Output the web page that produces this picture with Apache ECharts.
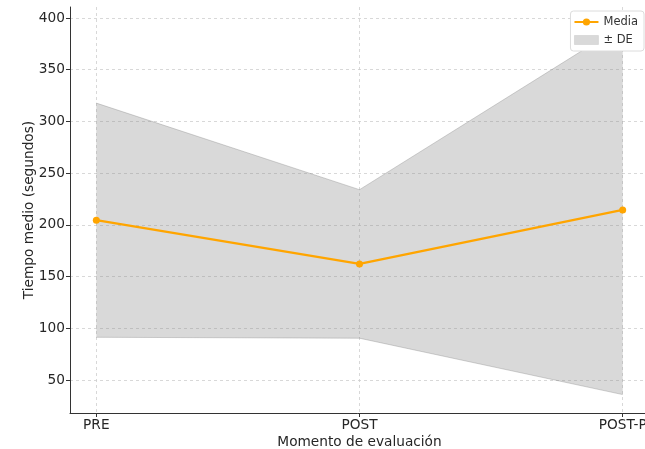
<!DOCTYPE html>
<html>
<head>
<meta charset="utf-8">
<script src="https://cdn.jsdelivr.net/npm/echarts@6/dist/echarts.min.js"></script>
<style>
html,body{margin:0;padding:0;background:#fff;}
#chart{width:645px;height:449px;}
</style>
</head>
<body>
<div id="chart"></div>
<script>
const categories = ['PRE', 'POST', 'POST-P'];
const meanValues = [204.5, 162.2, 214.4];
const sdValues = [113.2, 71.8, 178.5];
const yTicks = [50, 100, 150, 200, 250, 300, 350, 400];

const xIdx = categories.map((c, i) => i);
const lower = meanValues.map((m, i) => m - sdValues[i]);
const upper = meanValues.map((m, i) => m + sdValues[i]);

const font = 'DejaVu Sans';
const chart = echarts.init(document.getElementById('chart'), null, {renderer: 'canvas'});

function renderBand(params, api) {
  const i = params.dataIndex;
  if (i >= xIdx.length - 1) return null;
  const a0 = api.coord([xIdx[i], lower[i]]);
  const a1 = api.coord([xIdx[i + 1], lower[i + 1]]);
  const b1 = api.coord([xIdx[i + 1], upper[i + 1]]);
  const b0 = api.coord([xIdx[i], upper[i]]);
  return {
    type: 'group',
    children: [
      {type: 'polygon', shape: {points: [a0, a1, b1, b0]}, style: {fill: 'rgba(128,128,128,0.3)', stroke: null}},
      {type: 'polyline', shape: {points: [a0, a1]}, style: {stroke: 'rgba(128,128,128,0.35)', lineWidth: 1, fill: null}},
      {type: 'polyline', shape: {points: [b0, b1]}, style: {stroke: 'rgba(128,128,128,0.35)', lineWidth: 1, fill: null}}
    ]
  };
}

chart.setOption({
  animation: false,
  backgroundColor: '#ffffff',
  textStyle: {fontFamily: font},
  grid: {left: 70, right: -4, top: 7, bottom: 36, containLabel: false, outerBoundsMode: 'none'},
  legend: {
    right: 1, top: 11,
    orient: 'vertical',
    backgroundColor: '#ffffff',
    borderColor: '#dcdcdc', borderWidth: 1, borderRadius: 3,
    padding: [5, 6, 5, 3],
    itemGap: 6,
    itemWidth: 24, itemHeight: 9,
    textStyle: {fontFamily: font, fontSize: 11.5, color: '#333'},
    data: [
      {name: 'Media'},
      {name: '± DE', icon: 'rect', itemStyle: {color: '#d9d9d9', borderColor: '#c8c8c8', borderWidth: 0.5}}
    ]
  },
  xAxis: {
    type: 'value', min: -0.1, max: 2.1,
    name: 'Momento de evaluación', nameLocation: 'middle', nameGap: 22, nameMoveOverlap: false,
    nameTextStyle: {fontFamily: font, fontSize: 13.7, color: '#262626'},
    axisLine: {show: true, onZero: false, lineStyle: {color: '#333', width: 1}},
    axisTick: {show: true, customValues: xIdx, length: 4, lineStyle: {color: '#333'}},
    axisLabel: {customValues: xIdx, formatter: v => categories[Math.round(v)], fontFamily: font, fontSize: 13.7, color: '#262626', margin: 5},
    splitLine: {show: true, lineStyle: {type: [3, 3], color: '#cfcfcf', width: 0.8}}
  },
  yAxis: {
    type: 'value', min: 18.1, max: 410.6,
    name: 'Tiempo medio (segundos)', nameLocation: 'middle', nameGap: 34, nameMoveOverlap: false,
    nameTextStyle: {fontFamily: font, fontSize: 13.7, color: '#262626'},
    axisLine: {show: true, onZero: false, lineStyle: {color: '#333', width: 1}},
    axisTick: {show: true, customValues: yTicks, length: 4, lineStyle: {color: '#333'}},
    axisLabel: {customValues: yTicks, fontFamily: font, fontSize: 13.7, color: '#262626', margin: 5},
    splitLine: {show: true, lineStyle: {type: [3, 3], color: '#cfcfcf', width: 0.8}}
  },
  series: [
    {
      name: '± DE', type: 'custom',
      renderItem: renderBand,
      data: xIdx.map((x, i) => [x, lower[i], upper[i]]),
      encode: {x: 0, y: [1, 2]},
      itemStyle: {color: '#d9d9d9'},
      clip: true, z: 1
    },
    {
      name: 'Media', type: 'line',
      data: xIdx.map((x, i) => [x, meanValues[i]]),
      symbol: 'circle', symbolSize: 7,
      lineStyle: {color: '#ffa500', width: 2.3},
      itemStyle: {color: '#ffa500'}, z: 5
    }
  ]
});
</script>
</body>
</html>
